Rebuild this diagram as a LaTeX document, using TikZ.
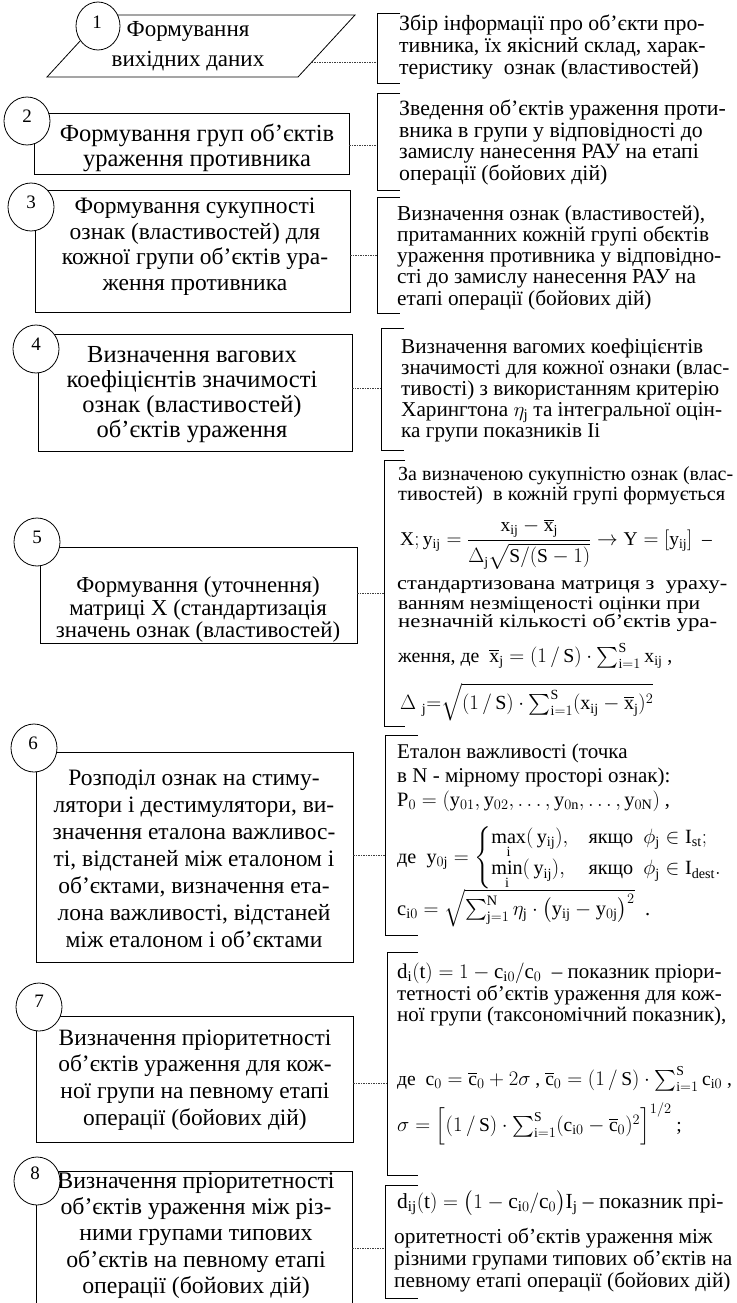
\documentclass[tikz,border=0pt]{standalone}
\usepackage{amsmath}
\usepackage{graphicx}
\usepackage{fontspec}
\setmainfont{Liberation Serif}
\setmathrm{Liberation Serif}
\usetikzlibrary{shapes.geometric}
\newcommand\fs[2]{\fontsize{#1}{#2}\selectfont}
\newcommand\mr[1]{\mathrm{#1}}
\newsavebox\fitbox
\newcommand\fitw[2]{\sbox\fitbox{#2}\pgfmathsetmacro\fitr{#1/(\the\wd\fitbox)}\scalebox{\fitr}[1]{\usebox\fitbox}}
\tikzset{
  box/.style={draw, line width=0.8pt, inner sep=0pt},
  numc/.style={draw, ellipse, fill=white, line width=0.8pt, inner sep=0pt, minimum width=46pt, minimum height=48pt},
  num/.style={inner sep=0pt, font=\fs{19}{19}},
  ltext/.style={align=center, inner sep=0pt},
  rtext/.style={align=left, inner sep=0pt, anchor=west},
  rline/.style={inner sep=0pt, anchor=west},
  brk/.style={line width=0.8pt},
  conn/.style={line width=0.5pt, dash pattern=on 1.5pt off 1pt, black!75},
}
\begin{document}
\begin{tikzpicture}[x=1pt,y=-1pt]
\fill[white] (0,0) rectangle (736,1303);
\useasboundingbox (0,0) rectangle (736,1303);

% ---------- 1
\coordinate (p1a) at (47,77);
\coordinate (p1b) at (104,15);
\coordinate (p1c) at (355,15);
\coordinate (p1d) at (298,77);
\draw[box] (p1a) -- (p1b) -- (p1c) -- (p1d) -- cycle;
\node[ltext, font=\fs{23}{30}] (b1) at (188,46) {Формування\\вихідних даних};
\node[numc, minimum width=44pt] (c1) at (98,26) {};
\node[num] (n1) at (97,22) {1};
\coordinate (e1) at (311.8,62);
\coordinate (k1) at (377,62);
\draw[conn] (e1) -- (k1);
\draw[brk] (400,13) -- (377,13) -- (377,83) -- (400,83);
\node[rtext, font=\fs{21.8}{22}] (r1) at (399,47) {Збір інформації про об’єкти про-\\тивника, їх якісний склад, харак-\\теристику\ \ ознак (властивостей)};

% ---------- 2
\node[box, minimum width=315pt, minimum height=61pt] (b2) at (191.5,143.5) {};
\node[ltext, font=\fs{24.5}{25}] (t2) at (197,147.5) {Формування груп об’єктів\\ураження противника};
\node[numc] (c2) at (27,121) {};
\node[num] (n2) at (27,116) {2};
\coordinate (k2) at (377,145);
\draw[conn] (b2.east |- k2) -- (k2);
\draw[brk] (400,93) -- (377,93) -- (377,190) -- (400,190);
\node[rtext, font=\fs{21.8}{21.7}] (r2) at (399,142.5) {Зведення об’єктів ураження проти-\\вника в групи у відповідності до\\замислу нанесення РАУ на етапі\\операції (бойових дій)};

% ---------- 3
\node[box, minimum width=315pt, minimum height=122pt] (b3) at (192.5,251) {};
\node[ltext, font=\fs{23.5}{25.5}] (t3) at (195,246.5) {Формування сукупності\\ознак (властивостей) для\\кожної групи об’єктів ура-\\ження противника};
\node[numc] (c3) at (31,207) {};
\node[num] (n3) at (31,202) {3};
\coordinate (k3) at (377,255);
\draw[conn] (b3.east |- k3) -- (k3);
\draw[brk] (400,197) -- (377,197) -- (377,313) -- (400,313);
\node[rtext, font=\fs{21.3}{21.2}] (r3) at (397,257.5) {Визначення ознак (властивостей),\\притаманних кожній групі обєктів\\ураження противника у відповідно-\\сті до замислу нанесення РАУ на\\етапі операції (бойових дій)};

% ---------- 4
\node[box, minimum width=314pt, minimum height=117pt] (b4) at (195,392.5) {};
\node[ltext, font=\fs{24.5}{25}] (t4) at (192,395) {Визначення вагових\\коефіцієнтів значимості\\ознак (властивостей)\\об’єктів ураження};
\node[numc] (c4) at (36,349) {};
\node[num] (n4) at (36,344) {4};
\coordinate (k4) at (381,388);
\draw[conn] (b4.east |- k4) -- (k4);
\draw[brk] (404,328) -- (381,328) -- (381,450) -- (404,450);
\node[rtext, font=\fs{21.2}{21}] (r4) at (401,390) {Визначення вагомих коефіцієнтів\\значимості для кожної ознаки (влас-\\тивості) з використанням критерію\\Харингтона $\eta_{\mr j}$ та інтегральної оцін-\\ка групи показників Іі};

% ---------- 5
\node[box, minimum width=317pt, minimum height=96pt] (b5) at (198.5,595) {};
\node[ltext, font=\fs{22.8}{22.5}] (t5) at (198,610) {Формування (уточнення)\\матриці Х (стандартизація\\значень ознак (властивостей)};
\node[numc] (c5) at (37,542) {};
\node[num] (n5) at (37,537) {5};
\coordinate (k5) at (384,593);
\draw[conn] (b5.east |- k5) -- (k5);
\draw[brk] (405,460) -- (384,460) -- (384,726) -- (405,726);
\begin{scope}[every node/.style={rline, font=\fs{20}{20}}]
\node (r5a) at (398,476) {\fitw{335}{За визначеною сукупністю ознак (влас-}};
\node (r5b) at (398,496) {\fitw{327}{тивостей)\ \ в кожній групі формується}};
\node[font=\fs{19.5}{20}] (r5c) at (400,544) {$\mr X;\mr y_{\mr{ij}}=\dfrac{\mr x_{\mr{ij}}-\overline{\mr x}_{\mr j}}{\Delta_{\mr j}\sqrt{\mr S/(\mr S-1)}}\rightarrow\mr Y=[\mr y_{\mr{ij}}]$\ \ –};
\node[font=\fs{19}{20}] (r5d) at (397,587) {\fitw{330}{стандартизована матриця з\ \ ураху-}};
\node[font=\fs{19}{20}] (r5e) at (398,605) {\fitw{302}{ванням незміщеності оцінки при}};
\node[font=\fs{19}{20}] (r5f) at (398,623) {\fitw{319}{незначній кількості об’єктів ура-}};
\node[font=\fs{19.8}{20}] (r5g) at (398,656) {ження, де\ \ $\overline{\mr x}_{\mr j}=(1\,/\,\mr S)\cdot\sum\nolimits_{\mr i=1}^{\mr S}\mr x_{\mr{ij}}$ ,};
\node[font=\fs{20}{20}] (r5h) at (400,702) {$\Delta\;{}_{\mr j}{=}\sqrt{(1\,/\,\mr S)\cdot\sum\nolimits_{\mr i=1}^{\mr S}(\mr x_{\mr{ij}}-\overline{\mr x}_{\mr j})^2}$};
\end{scope}

% ---------- 6
\node[box, minimum width=317pt, minimum height=210pt] (b6) at (194.5,857) {};
\node[ltext, font=\fs{23.5}{27}] (t6) at (194,858.5) {Розподіл ознак на стиму-\\лятори і дестимулятори, ви-\\значення еталона важливос-\\ті, відстаней між еталоном і\\об’єктами, визначення ета-\\лона важливості, відстаней\\між еталоном і об’єктами};
\node[numc] (c6) at (34,748) {};
\node[num] (n6) at (33,743) {6};
\coordinate (k6) at (385,855);
\draw[conn] (b6.east |- k6) -- (k6);
\draw[brk] (418,735) -- (385,735) -- (385,935) -- (418,935);
\begin{scope}[every node/.style={rline, font=\fs{21}{20}}]
\node (r6a) at (397,753) {Еталон важливості (точка};
\node (r6b) at (397,777) {в N - мірному просторі ознак):};
\node[font=\fs{20.4}{20}] (r6c) at (397,801) {$\mr P_0=(\mr y_{01},\mr y_{02},\dots,\mr y_{0\mr n},\dots,\mr y_{0\mr N})$ ,};
\node[font=\fs{20.2}{20}] (r6d) at (397,858) {де\ \ $\mr y_{0\mr j}=\begin{cases}\max\limits_{\mr i}(\,\mr y_{\mr{ij}}), & \text{якщо }\ \phi_{\mr j}\in\mr I_{\mr{st}};\\ \min\limits_{\mr i}(\,\mr y_{\mr{ij}}), & \text{якщо }\ \phi_{\mr j}\in\mr I_{\mr{dest}}.\end{cases}$};
\node[font=\fs{20.5}{20}] (r6e) at (397,908) {$\mr c_{\mr i0}=\sqrt{\sum\nolimits_{\mr j=1}^{\mr N}\eta_{\mr j}\cdot\bigl(\mr y_{\mr{ij}}-\mr y_{0\mr j}\bigr)^2}$\ \ .};
\end{scope}

% ---------- 7
\node[box, minimum width=317pt, minimum height=126pt] (b7) at (194.5,1079) {};
\node[ltext, font=\fs{23.4}{26.7}] (t7) at (195,1080) {Визначення пріоритетності\\об’єктів ураження для кож-\\ної групи на певному етапі\\операції (бойових дій)};
\node[numc] (c7) at (39,1007) {};
\node[num] (n7) at (39,1001) {7};
\coordinate (k7) at (387,1083);
\draw[conn] (b7.east |- k7) -- (k7);
\draw[brk] (418,952) -- (387,952) -- (387,1175) -- (418,1175);
\begin{scope}[every node/.style={rline, font=\fs{21}{20}}]
\node (r7a) at (397,973) {$\mr d_{\mr i}(\mr t)=1-\mr c_{\mr i0}/\mr c_0$\ \ – показник пріори-};
\node (r7b) at (397,995) {тетності об’єктів ураження для кож-};
\node (r7c) at (397,1016) {ної групи (таксономічний показник),};
\node[font=\fs{19.6}{20}] (r7d) at (397,1079) {де\ \ $\mr c_0=\overline{\mr c}_0+2\sigma$ ,\ $\overline{\mr c}_0=(1\,/\,\mr S)\cdot\sum\nolimits_{\mr i=1}^{\mr S}\mr c_{\mr i0}$ ,};
\node[font=\fs{19.5}{20}] (r7e) at (397,1124) {$\sigma=\Bigl[(1\,/\,\mr S)\cdot\sum\nolimits_{\mr i=1}^{\mr S}(\mr c_{\mr i0}-\overline{\mr c}_0)^2\Bigr]^{1/2}$ ;};
\end{scope}

% ---------- 8
\node[box, minimum width=316pt, minimum height=139pt] (b8) at (194,1240.5) {};
\node[ltext, font=\fs{23.8}{26.3}] (t8) at (196,1235.5) {Визначення пріоритетності\\об’єктів ураження між різ-\\ними групами типових\\об’єктів на певному етапі\\операції (бойових дій)};
\node[numc] (c8) at (37,1181) {};
\node[num] (n8) at (35,1173) {8};
\coordinate (k8) at (385,1248);
\draw[conn] (b8.east |- k8) -- (k8);
\draw[brk] (418,1185) -- (385,1185) -- (385,1298) -- (418,1298);
\node[rline, font=\fs{21.5}{20}] (r8a) at (397,1203) {$\mr d_{\mr{ij}}(\mr t)=\bigl(1-\mr c_{\mr i0}/\mr c_0\bigr)\mr I_{\mr j}$ – показник прі-};
\node[rtext, font=\fs{21.3}{22}] (r8b) at (394,1260) {оритетності об’єктів ураження між\\різними групами типових об’єктів на\\певному етапі операції (бойових дій)};
\end{tikzpicture}
\end{document}
